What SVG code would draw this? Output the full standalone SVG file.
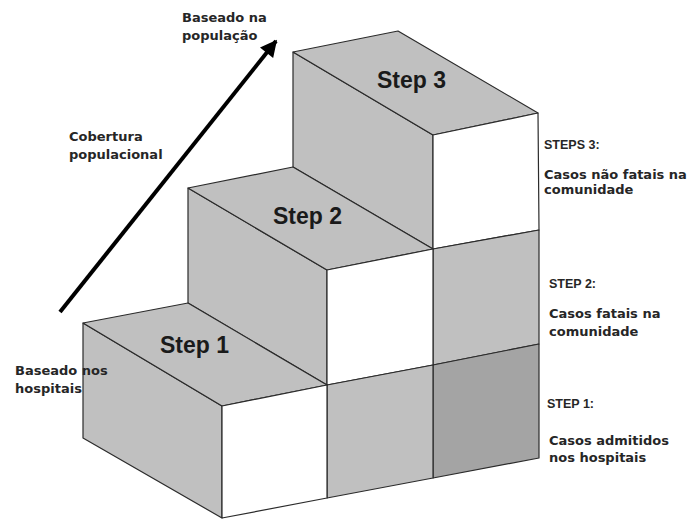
<svg xmlns="http://www.w3.org/2000/svg" width="697" height="519" viewBox="0 0 697 519">
<defs>
<style>
.g{fill:#c0c0c0;stroke:#2b2b2b;stroke-width:1.2;stroke-linejoin:round}
.w{fill:#ffffff;stroke:#2b2b2b;stroke-width:1.2;stroke-linejoin:round}
.d{fill:#a4a4a4;stroke:#2b2b2b;stroke-width:1.2;stroke-linejoin:round}
.step{font-family:"Liberation Sans",Arial,sans-serif;font-weight:bold;font-size:23px;fill:#1a1a1a}
.lbl{font-family:"DejaVu Sans",Verdana,sans-serif;font-weight:bold;font-size:13px;fill:#262626}
.cap{font-family:"Liberation Sans",Arial,sans-serif;font-weight:bold;font-size:12.5px;fill:#262626}
</style>
<marker id="ah" viewBox="0 0 10 10" refX="9" refY="5" markerWidth="5" markerHeight="4.2" orient="auto" markerUnits="strokeWidth">
<path d="M0,0 L10,5 L0,10 Z" fill="#000"/>
</marker>
</defs>
<rect width="697" height="519" fill="#ffffff"/>

<g id="step3">
<polygon class="g" points="293,52 433,135 433,249 293,167"/>
<polygon class="g" points="293,52 398,31 538,113 433,135"/>
<polygon class="w" points="433,135 538,113 539,230 433,249"/>
<polygon class="g" points="433,249 539,230 539,344 433,365"/>
<polygon class="d" points="433,365 539,344 539,458 433,478"/>
<text class="step" x="377" y="88">Step 3</text>
</g>

<g id="step2">
<polygon class="g" points="188,188 327,270 327,385 188,303"/>
<polygon class="g" points="188,188 293,167 433,249 327,270"/>
<polygon class="w" points="327,270 433,249 433,365 327,385"/>
<polygon class="g" points="327,385 433,365 433,478 327,498"/>
<text class="step" x="273" y="224">Step 2</text>
</g>

<g id="step1">
<polygon class="g" points="83,323 222,406 222,518 83,438"/>
<polygon class="g" points="83,323 188,303 327,385 222,406"/>
<polygon class="w" points="222,406 327,385 327,498 222,518"/>
<text class="step" x="160" y="353">Step 1</text>
</g>

<g id="connectors">
<line x1="60" y1="312" x2="276" y2="41" stroke="#000" stroke-width="4" marker-end="url(#ah)"/>
</g>

<g id="label-top">
<text class="lbl" x="182" y="22">Baseado na</text>
<text class="lbl" x="182" y="40">população</text>
</g>
<g id="label-cobertura">
<text class="lbl" x="69" y="141">Cobertura</text>
<text class="lbl" x="69" y="159">populacional</text>
</g>
<g id="label-hospitais">
<text class="lbl" x="15" y="375">Baseado nos</text>
<text class="lbl" x="15" y="393">hospitais</text>
</g>
<g id="label-step3">
<text class="cap" x="544" y="149">STEPS 3:</text>
<text class="lbl" x="544" y="179">Casos não fatais na</text>
<text class="lbl" x="544" y="194">comunidade</text>
</g>
<g id="label-step2">
<text class="cap" x="549" y="288">STEP 2:</text>
<text class="lbl" x="549" y="318">Casos fatais na</text>
<text class="lbl" x="549" y="336">comunidade</text>
</g>
<g id="label-step1">
<text class="cap" x="547" y="408">STEP 1:</text>
<text class="lbl" x="549" y="445">Casos admitidos</text>
<text class="lbl" x="549" y="462">nos hospitais</text>
</g>
</svg>
